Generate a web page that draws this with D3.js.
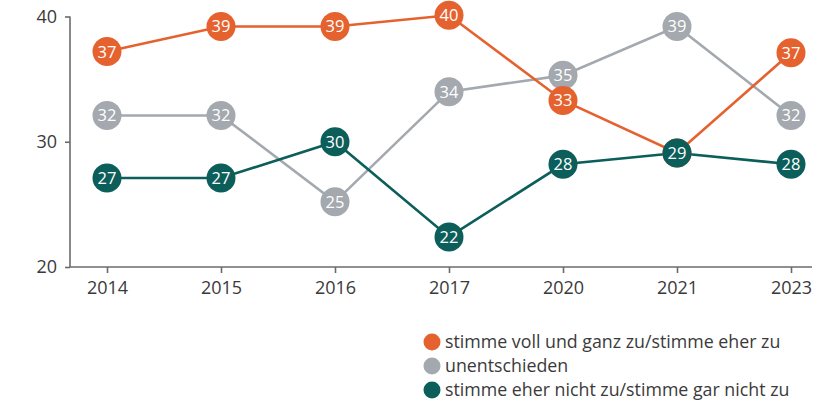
<!DOCTYPE html>
<html><head><meta charset="utf-8">
<script src="https://cdn.jsdelivr.net/npm/d3@7"></script>
<style>
html,body{margin:0;padding:0;background:#fff;}
svg{display:block;font-family:"Open Sans",sans-serif;}
</style></head>
<body><svg id="c" width="825" height="401"></svg>
<script>
const years = ["2014","2015","2016","2017","2020","2021","2023"];
const agree    = [37.2, 39.2, 39.2, 40.1, 33.3, 29.1, 37.1];
const neutral  = [32.1, 32.1, 25.2, 34.0, 35.3, 39.2, 32.1];
const disagree = [27.1, 27.1, 30.0, 22.4, 28.2, 29.1, 28.2];
const yTicks = [20, 30, 40];
const seriesNames = ["stimme voll und ganz zu/stimme eher zu", "unentschieden", "stimme eher nicht zu/stimme gar nicht zu"];
const colors = ["#e5622f", "#a3a9ae", "#0c5e5a"];

const svg = d3.select("#c");
const x = d3.scalePoint().domain(years).range([107, 791]).padding(0);
const y = d3.scaleLinear().domain([20, 40]).range([267, 16.5]);

// axes
const yAxis = svg.append("g").attr("transform","translate(70,0)")
  .call(d3.axisLeft(y).tickValues(yTicks).tickSize(5).tickPadding(8).tickSizeOuter(0));
const xAxis = svg.append("g").attr("transform","translate(0,267)")
  .call(d3.axisBottom(x).tickSize(6).tickPadding(8).tickSizeOuter(0));
[yAxis, xAxis].forEach(a => {
  a.select(".domain").attr("stroke","#6b6b6b").attr("stroke-width",1.6);
  a.selectAll(".tick line").attr("stroke","#6b6b6b").attr("stroke-width",1.6);
  a.selectAll(".tick text").attr("fill","#3a3a3a").style("font-size","18px").style("font-family","'Open Sans',sans-serif");
});
xAxis.select(".domain").attr("d","M70,0H812");
yAxis.select(".domain").attr("d","M0,16.5V267");

const series = [
  {name: seriesNames[1], vals: neutral, color: colors[1]},
  {name: seriesNames[0], vals: agree, color: colors[0]},
  {name: seriesNames[2], vals: disagree, color: colors[2]}
];
const line = d3.line().x((d,i)=>x(years[i])).y(d=>y(d));
series.forEach(s => {
  svg.append("path").datum(s.vals).attr("d", line)
    .attr("fill","none").attr("stroke", s.color).attr("stroke-width",2.6);
});
series.forEach(s => {
  const g = svg.append("g").selectAll("g").data(s.vals).join("g")
    .attr("transform",(d,i)=>`translate(${x(years[i])},${y(d)})`);
  g.append("circle").attr("r",14.5).attr("fill", s.color);
  g.append("text").text(d=>Math.round(d))
    .attr("text-anchor","middle").attr("dy","0.36em")
    .attr("fill","#fff").style("font-size","16.5px").style("font-weight","500");
});

// legend
const leg = svg.append("g").selectAll("g").data(seriesNames).join("g")
  .attr("transform",(d,i)=>`translate(432,${342 + i*24})`);
leg.append("circle").attr("r",8.5).attr("fill",(d,i)=>colors[i]);
leg.append("text").text(d=>d).attr("x",13).attr("dy","0.35em")
  .attr("fill","#3a3a3a").style("font-size","17.8px");
</script></body></html>
